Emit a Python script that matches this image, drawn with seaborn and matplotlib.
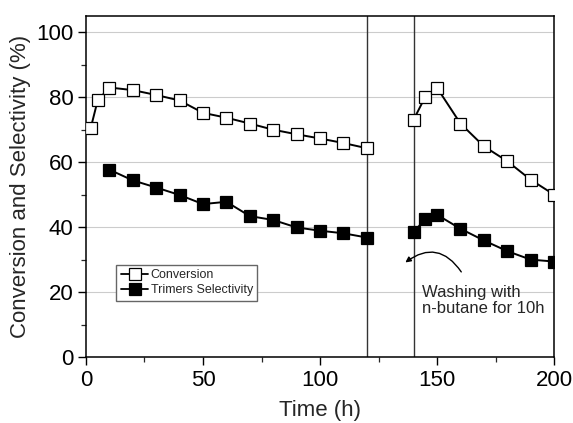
import matplotlib
matplotlib.use("Agg")
import matplotlib.pyplot as plt
import numpy as np
import pandas as pd
import seaborn as sns
from matplotlib.lines import Line2D
from matplotlib.ticker import MultipleLocator

# run 1 (before washing) and run 2 (after washing with n-butane)
time_run1 = [2, 5, 10, 20, 30, 40, 50, 60, 70, 80, 90, 100, 110, 120]
conversion_run1 = [70.4, 79.0, 83.0, 82.2, 80.7, 79.0, 75.2, 73.7, 71.9, 70.0, 68.6, 67.3, 65.9, 64.3]
time_sel_run1 = [10, 20, 30, 40, 50, 60, 70, 80, 90, 100, 110, 120]
selectivity_run1 = [57.7, 54.4, 52.2, 49.9, 47.1, 47.8, 43.4, 42.2, 39.9, 38.9, 38.1, 36.8]

time_run2 = [140, 145, 150, 160, 170, 180, 190, 200]
conversion_run2 = [73.1, 80.2, 82.9, 71.9, 64.9, 60.3, 54.6, 50.0]
selectivity_run2 = [38.6, 42.4, 43.8, 39.5, 35.9, 32.6, 30.0, 29.4]

washing_start = 120
washing_end = 140


def build_frame() -> pd.DataFrame:
    rows = []
    for t, v in zip(time_run1, conversion_run1):
        rows.append({"time": t, "value": v, "series": "Conversion", "run": 1})
    for t, v in zip(time_run2, conversion_run2):
        rows.append({"time": t, "value": v, "series": "Conversion", "run": 2})
    for t, v in zip(time_sel_run1, selectivity_run1):
        rows.append({"time": t, "value": v, "series": "Trimers Selectivity", "run": 1})
    for t, v in zip(time_run2, selectivity_run2):
        rows.append({"time": t, "value": v, "series": "Trimers Selectivity", "run": 2})
    return pd.DataFrame(rows)


def main() -> None:
    sns.set_style("white")
    plt.rcParams["font.family"] = ["Liberation Sans", "DejaVu Sans"]

    df = build_frame()
    fig, ax = plt.subplots(figsize=(5.73, 4.23), dpi=100)
    fig.subplots_adjust(left=0.150, right=0.967, top=0.962, bottom=0.156)

    ax.grid(axis="y", color="#cccccc", linewidth=0.8, zorder=0)
    ax.set_axisbelow(True)

    styles = {
        "Conversion": "white",
        "Trimers Selectivity": "black",
    }
    for name, face in styles.items():
        sub = df[df["series"] == name]
        sns.lineplot(
            data=sub, x="time", y="value", units="run", estimator=None,
            color="black", linewidth=1.4, marker="s", markersize=8,
            markerfacecolor=face, markeredgecolor="black", markeredgewidth=0.9,
            ax=ax, legend=False, zorder=3,
        )

    for xv in (washing_start, washing_end):
        ax.axvline(xv, color="#333333", linewidth=1.0, zorder=2)

    ax.set_xlim(0, 200)
    ax.set_ylim(0, 105)
    ax.xaxis.set_major_locator(MultipleLocator(50))
    ax.xaxis.set_minor_locator(MultipleLocator(25))
    ax.yaxis.set_major_locator(MultipleLocator(20))
    ax.yaxis.set_minor_locator(MultipleLocator(10))
    ax.tick_params(which="major", direction="out", length=6, width=1.0,
                   labelsize=16, colors="black", bottom=True, left=True, pad=3)
    ax.tick_params(which="minor", direction="out", length=3.5, width=0.9,
                   bottom=True, left=True)
    for sp in ax.spines.values():
        sp.set_color("black")
        sp.set_linewidth(1.1)

    ax.set_xlabel("Time (h)", fontsize=16, labelpad=7)
    ax.set_ylabel("Conversion and Selectivity (%)", fontsize=16, labelpad=4)

    handles = [
        Line2D([], [], color="black", linewidth=1.3, marker="s", markersize=8,
               markerfacecolor=face, markeredgecolor="black", markeredgewidth=0.9)
        for face in styles.values()
    ]
    ax.legend(handles, list(styles.keys()), loc="upper left",
              bbox_to_anchor=(0.065, 0.27), fontsize=9, frameon=True,
              fancybox=False, edgecolor="#666666", framealpha=1,
              handlelength=2.2, handletextpad=0.2, borderpad=0.35,
              labelspacing=0.25, borderaxespad=0)

    ax.annotate("", xy=(135.5, 28.6), xytext=(161, 25.5),
                arrowprops=dict(arrowstyle="-|>", color="black", lw=1.0,
                                connectionstyle="arc3,rad=0.55",
                                mutation_scale=8))
    ax.text(143.5, 22.3, "Washing with\nn-butane for 10h", fontsize=12,
            va="top", ha="left", linespacing=1.15)

    fig.savefig("out.png", dpi=100)
    plt.close(fig)


if __name__ == "__main__":
    main()
